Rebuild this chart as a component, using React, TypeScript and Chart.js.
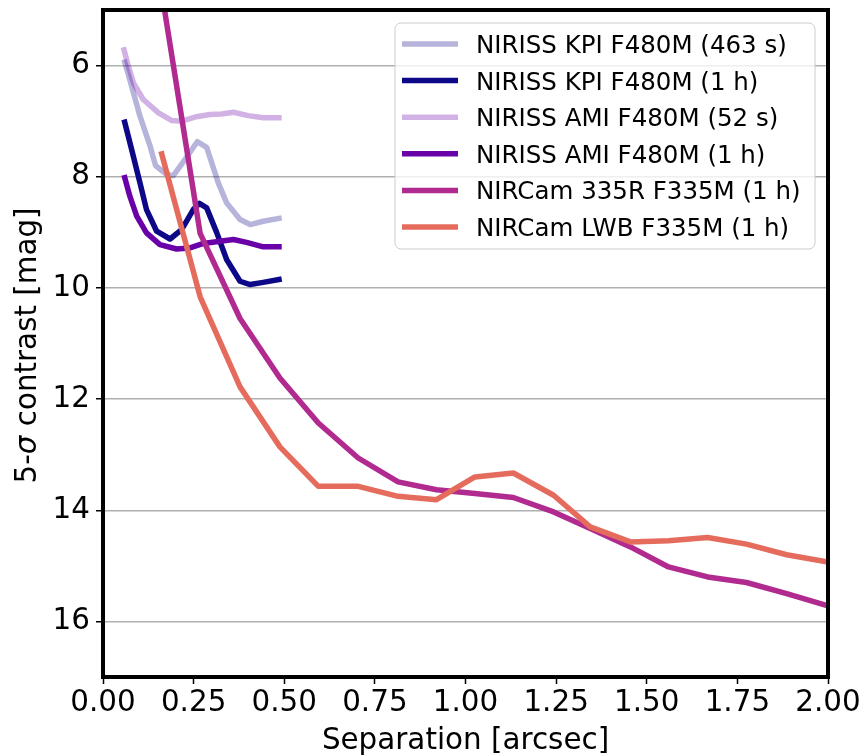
import React, { useEffect, useRef } from 'react';
import { Chart, registerables } from 'chart.js';

Chart.register(...registerables);

// ---- data (separation in arcsec, 5-sigma contrast in mag) ----
const kpi463Sep = [0.058, 0.079, 0.102, 0.13, 0.145, 0.176, 0.194, 0.226, 0.26, 0.286, 0.318, 0.341, 0.378, 0.406, 0.442, 0.493];
const kpi463Mag = [5.89, 6.37, 6.91, 7.45, 7.8, 7.96, 7.98, 7.69, 7.37, 7.47, 8.11, 8.47, 8.77, 8.86, 8.8, 8.74];

const kpi1hSep = [0.058, 0.079, 0.102, 0.12, 0.148, 0.185, 0.217, 0.249, 0.266, 0.286, 0.314, 0.341, 0.378, 0.406, 0.442, 0.493];
const kpi1hMag = [6.97, 7.51, 8.11, 8.59, 8.98, 9.12, 8.95, 8.59, 8.48, 8.56, 9.01, 9.49, 9.88, 9.94, 9.9, 9.84];

const ami52Sep = [0.056, 0.07, 0.084, 0.111, 0.153, 0.19, 0.217, 0.258, 0.295, 0.327, 0.36, 0.4, 0.442, 0.493];
const ami52Mag = [5.67, 6.01, 6.31, 6.61, 6.85, 6.99, 7.0, 6.92, 6.88, 6.87, 6.84, 6.9, 6.94, 6.94];

const ami1hSep = [0.058, 0.074, 0.093, 0.12, 0.157, 0.203, 0.24, 0.277, 0.323, 0.36, 0.396, 0.442, 0.493];
const ami1hMag = [7.97, 8.35, 8.71, 9.01, 9.22, 9.3, 9.28, 9.2, 9.16, 9.13, 9.18, 9.26, 9.26];

const nircamSep = [0.16, 0.268, 0.378, 0.488, 0.594, 0.704, 0.814, 0.92, 1.026, 1.132, 1.243, 1.344, 1.455, 1.56, 1.668, 1.775, 1.886, 2.0];
const nircam335RMag = [4.6, 9.02, 10.55, 11.62, 12.43, 13.06, 13.49, 13.63, 13.7, 13.77, 14.03, 14.33, 14.66, 15.02, 15.2, 15.3, 15.5, 15.72];
const nircamLWBMag = [7.54, 10.16, 11.78, 12.86, 13.57, 13.57, 13.75, 13.81, 13.4, 13.33, 13.73, 14.3, 14.57, 14.55, 14.49, 14.61, 14.8, 14.93];

const seriesLabels = [
  'NIRISS KPI F480M (463 s)',
  'NIRISS KPI F480M (1 h)',
  'NIRISS AMI F480M (52 s)',
  'NIRISS AMI F480M (1 h)',
  'NIRCam 335R F335M (1 h)',
  'NIRCam LWB F335M (1 h)',
];
const seriesColors = [
  'rgba(13,8,135,0.3)',
  'rgb(13,8,135)',
  'rgba(106,0,168,0.3)',
  'rgb(106,0,168)',
  'rgb(177,42,144)',
  'rgb(229,107,93)',
];

const xTicks = [0, 0.25, 0.5, 0.75, 1.0, 1.25, 1.5, 1.75, 2.0];
const yTicks = [6, 8, 10, 12, 14, 16];

const FONT = "'DejaVu Sans', sans-serif";
const FS = 29.4; // ticks and axis titles
const LFS = 24.5; // legend
const LW = 5.5;

const zip = (xs: number[], ys: number[]) => xs.map((x, i) => ({ x, y: ys[i] }));

const decorPlugin = {
  id: 'decor',
  afterDatasetsDraw(chart: any) {
    const { ctx, chartArea: a } = chart;
    ctx.save();
    // frame
    ctx.strokeStyle = '#000';
    ctx.lineWidth = 4;
    ctx.strokeRect(a.left, a.top, a.right - a.left, a.bottom - a.top);

    // legend
    const bw = 420, bh = 226;
    const bx = a.right - 13 - bw;
    const by = a.top + 13;
    ctx.beginPath();
    ctx.roundRect(bx, by, bw, bh, 6);
    ctx.fillStyle = 'rgba(255,255,255,0.8)';
    ctx.fill();
    ctx.lineWidth = 1;
    ctx.strokeStyle = '#cccccc';
    ctx.stroke();
    ctx.font = `${LFS}px ${FONT}`;
    ctx.textBaseline = 'alphabetic';
    ctx.textAlign = 'left';
    for (let i = 0; i < seriesLabels.length; i++) {
      const ry = by + 21 + i * 36.6;
      ctx.beginPath();
      ctx.moveTo(bx + 7, ry);
      ctx.lineTo(bx + 63, ry);
      ctx.strokeStyle = seriesColors[i];
      ctx.lineWidth = LW;
      ctx.lineCap = 'butt';
      ctx.stroke();
      ctx.fillStyle = '#000';
      ctx.fillText(seriesLabels[i], bx + 81, ry + 0.365 * LFS);
    }

    // x title
    ctx.fillStyle = '#000';
    ctx.textAlign = 'center';
    ctx.font = `${FS}px ${FONT}`;
    ctx.fillText('Separation [arcsec]', (a.left + a.right) / 2, 749);

    // y title with italic sigma
    const parts = [
      { t: '5-', f: `${FS}px ${FONT}` },
      { t: 'σ', f: `oblique ${FS}px ${FONT}` },
      { t: ' contrast [mag]', f: `${FS}px ${FONT}` },
    ];
    let total = 0;
    const widths = parts.map((p) => {
      ctx.font = p.f;
      const w = ctx.measureText(p.t).width;
      total += w;
      return w;
    });
    ctx.translate(36, (a.top + a.bottom) / 2 + 2);
    ctx.rotate(-Math.PI / 2);
    ctx.textAlign = 'left';
    let cx = -total / 2;
    parts.forEach((p, i) => {
      ctx.font = p.f;
      ctx.fillText(p.t, cx, 0);
      cx += widths[i];
    });
    ctx.restore();
  },
};

export default function App() {
  const ref = useRef<HTMLCanvasElement | null>(null);
  useEffect(() => {
    if (!ref.current) return;
    const sets = [
      zip(kpi463Sep, kpi463Mag),
      zip(kpi1hSep, kpi1hMag),
      zip(ami52Sep, ami52Mag),
      zip(ami1hSep, ami1hMag),
      zip(nircamSep, nircam335RMag),
      zip(nircamSep, nircamLWBMag),
    ];
    const chart = new Chart(ref.current, {
      type: 'line',
      data: {
        datasets: sets.map((d, i) => ({
          label: seriesLabels[i],
          data: d,
          borderColor: seriesColors[i],
          backgroundColor: seriesColors[i],
          borderWidth: LW,
          pointRadius: 0,
          tension: 0,
          fill: false,
          clip: 0,
          order: sets.length - i,
          borderJoinStyle: 'round',
          borderCapStyle: 'butt',
        })),
      },
      options: {
        animation: false,
        responsive: false,
        devicePixelRatio: 1,
        layout: { padding: { top: 10, right: 36, left: 0, bottom: 0 } },
        plugins: { legend: { display: false }, tooltip: { enabled: false } },
        scales: {
          x: {
            type: 'linear',
            min: 0,
            max: 2,
            afterBuildTicks: (s: any) => {
              s.ticks = xTicks.map((v) => ({ value: v }));
            },
            afterFit: (s: any) => {
              s.height = 79;
              s.paddingLeft = 0;
              s.paddingRight = 0;
            },
            ticks: {
              font: { family: FONT, size: FS },
              color: '#000',
              padding: 2,
              maxRotation: 0,
              autoSkip: false,
              callback: (v: any) => Number(v).toFixed(2),
            },
            grid: {
              drawOnChartArea: false,
              drawTicks: true,
              tickLength: 7,
              tickColor: '#000',
              tickWidth: 1.5,
            },
            border: { display: false },
          },
          y: {
            type: 'linear',
            reverse: true,
            min: 5,
            max: 17,
            afterBuildTicks: (s: any) => {
              s.ticks = yTicks.map((v) => ({ value: v }));
            },
            afterFit: (s: any) => {
              s.width = 103;
              s.paddingTop = 0;
              s.paddingBottom = 0;
            },
            ticks: {
              font: { family: FONT, size: FS },
              color: '#000',
              padding: 6,
              autoSkip: false,
              callback: (v: any) => String(v),
            },
            grid: {
              color: '#b0b0b0',
              lineWidth: 1.5,
              drawTicks: true,
              tickLength: 7,
              tickColor: '#000',
              tickWidth: 1.5,
            },
            border: { display: false },
          },
        },
      },
      plugins: [decorPlugin],
    });
    return () => chart.destroy();
  }, []);
  return (
    <div style={{ position: 'fixed', left: 0, top: 0, width: 864, height: 756, background: '#fff' }}>
      <canvas ref={ref} width={864} height={756} style={{ display: 'block' }} />
    </div>
  );
}
